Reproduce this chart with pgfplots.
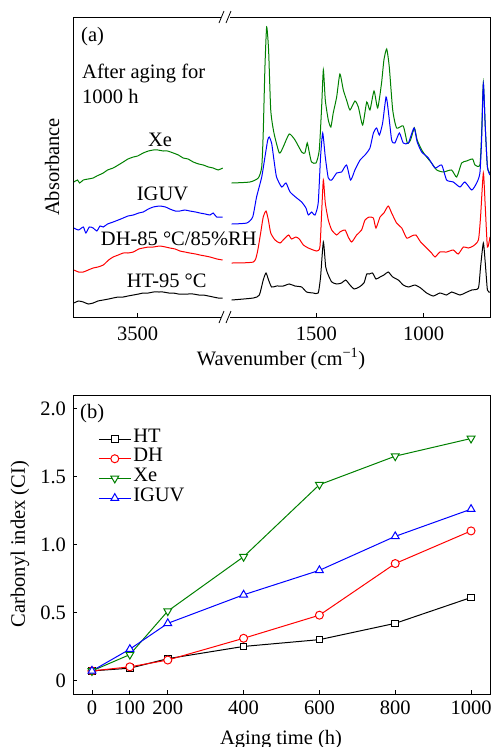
\documentclass[border=0pt]{standalone}
\usepackage{fontspec}
\setmainfont{Liberation Serif}
\usepackage{pgfplots}
\pgfplotsset{compat=1.18}
\definecolor{cgreen}{RGB}{0,128,0}
\definecolor{cblue}{RGB}{0,0,255}
\definecolor{cred}{RGB}{255,0,0}
\newcommand{\fs}{\fontsize{20.5}{24}\selectfont}
\begin{document}
\fs
\begin{tikzpicture}
\useasboundingbox (0pt,0pt) rectangle (493pt,-747pt);
\pgfplotsset{
  every axis/.append style={font=\fs, /pgf/number format/assume math mode=true,
    /pgf/number format/1000 sep={},
    scale only axis, anchor=south west, tick align=inside, major tick length=4pt,
    every tick/.style={black, line width=0.8pt}},
  spec/.style={line width=1pt, smooth, tension=0.35},
}
% ---------- panel (a), left part ----------
\begin{axis}[at={(73pt,-317pt)}, width=152pt, height=300pt,
  xmin=3093, xmax=3801, x dir=reverse, ymin=0, ymax=300,
  ytick=\empty, xtick={3500}, xtick pos=bottom, axis line style={draw=none},
  xticklabel style={yshift=-3pt}]
\addplot[cgreen, spec] coordinates {(3797,135) (3780,137) (3770,134) (3753,137) (3730,138) (3707,139) (3690,141) (3660,144) (3640,147) (3614,149) (3590,152) (3567,155) (3545,158) (3520,160) (3500,161) (3474,164) (3450,166) (3427,167) (3405,167) (3381,166) (3360,166) (3334,164) (3310,162) (3288,159) (3265,158) (3241,155) (3215,153) (3194,152) (3170,150) (3148,149) (3125,147) (3104,149)};
\addplot[cblue, spec] coordinates {(3797,89) (3775,87) (3753,90) (3741,84) (3725,90) (3707,89) (3690,86) (3675,91) (3660,90) (3640,93) (3614,95) (3590,97) (3567,99) (3545,101) (3520,102) (3495,104) (3474,105) (3450,108) (3427,110) (3396,111) (3370,110) (3350,108) (3325,106) (3303,106) (3280,107) (3257,106) (3230,105) (3210,104) (3185,103) (3163,102) (3148,104) (3132,100) (3104,100)};
\addplot[cred, spec] coordinates {(3797,47) (3775,45) (3753,45) (3730,47) (3707,49) (3685,50) (3660,52) (3635,57) (3614,60) (3590,62) (3567,64) (3545,64) (3520,65) (3495,68) (3474,69) (3450,70) (3427,70) (3396,71) (3370,70) (3350,69) (3325,68) (3303,66) (3280,65) (3257,64) (3230,63) (3210,62) (3185,61) (3163,60) (3130,58) (3104,57)};
\addplot[black, spec] coordinates {(3797,14) (3775,16) (3753,15) (3730,13) (3707,14) (3685,16) (3660,17) (3635,18) (3614,19) (3590,20) (3567,20) (3545,21) (3520,22) (3495,23) (3474,24) (3450,24) (3427,25) (3400,25) (3381,25) (3355,24) (3334,24) (3310,23) (3288,23) (3265,23) (3241,23) (3215,22) (3194,22) (3170,21) (3148,20) (3125,19) (3104,19)};
\end{axis}
% ---------- panel (a), right part ----------
\begin{axis}[at={(225pt,-317pt)}, width=265pt, height=300pt,
  xmin=691, xmax=1925, x dir=reverse, ymin=0, ymax=300,
  ytick=\empty, xtick={1500,1000}, xtick pos=bottom, axis line style={draw=none},
  xticklabel style={yshift=-3pt}]
\addplot[cgreen, spec] coordinates {(1894,134) (1809,135) (1770,139) (1754,150) (1747,184) (1739,250) (1731,290) (1722,267) (1712,207) (1697,184) (1672,164) (1654,170) (1626,183) (1599,177) (1568,165) (1553,164) (1542,174) (1532,164) (1522,155) (1501,154) (1486,167) (1475,210) (1467,247) (1458,217) (1444,197) (1432,190) (1421,204) (1405,220) (1390,243) (1374,227) (1359,217) (1343,207) (1320,216) (1304,210) (1284,192) (1265,215) (1250,207) (1231,226) (1214,209) (1196,234) (1185,257) (1172,268) (1160,250) (1144,207) (1126,189) (1095,191) (1076,174) (1061,177) (1043,189) (1030,177) (1009,167) (986,160) (963,154) (939,147) (908,145) (870,147) (846,140) (823,154) (800,156) (772,158) (761,152) (738,152) (730,184) (722,234) (713,190) (703,150) (691,144)};
\addplot[cblue, spec] coordinates {(1894,93) (1824,94) (1796,100) (1778,120) (1754,140) (1739,160) (1726,177) (1719,180) (1708,174) (1697,157) (1685,140) (1661,130) (1641,134) (1622,125) (1591,119) (1568,115) (1548,109) (1537,102) (1522,105) (1506,102) (1491,114) (1480,160) (1470,184) (1458,160) (1444,139) (1428,137) (1405,144) (1382,145) (1359,152) (1340,137) (1320,147) (1296,157) (1273,162) (1250,169) (1234,184) (1219,189) (1206,182) (1191,194) (1175,220) (1165,207) (1149,177) (1134,174) (1113,184) (1095,174) (1071,174) (1045,189) (1030,175) (1009,165) (978,159) (947,149) (916,152) (893,137) (862,135) (831,130) (808,135) (776,127) (753,134) (738,144) (730,177) (722,233) (713,190) (703,150) (691,142)};
\addplot[cred, spec] coordinates {(1894,54) (1793,55) (1775,64) (1759,84) (1747,100) (1734,106) (1723,97) (1712,84) (1692,77) (1669,74) (1650,78) (1629,82) (1615,78) (1595,80) (1579,78) (1560,72) (1537,69) (1498,66) (1483,70) (1475,104) (1467,137) (1458,114) (1444,97) (1428,87) (1405,82) (1390,85) (1366,87) (1351,80) (1335,75) (1312,82) (1289,87) (1273,97) (1253,100) (1234,99) (1222,89) (1203,100) (1185,104) (1165,111) (1149,104) (1126,94) (1102,89) (1079,79) (1056,81) (1036,82) (1014,75) (986,69) (963,64) (947,60) (924,65) (893,65) (862,67) (839,63) (815,70) (792,69) (769,71) (745,77) (735,100) (722,144) (713,110) (703,70) (691,80)};
\addplot[black, spec] coordinates {(1894,17) (1793,19) (1765,22) (1747,37) (1734,44) (1722,37) (1708,30) (1685,31) (1654,31) (1626,33) (1599,31) (1568,30) (1545,25) (1514,24) (1491,24) (1480,40) (1467,75) (1456,50) (1444,42) (1428,35) (1405,33) (1382,34) (1363,37) (1343,32) (1324,28) (1300,30) (1278,34) (1265,43) (1253,43) (1238,44) (1222,38) (1203,40) (1185,42) (1165,45) (1144,40) (1118,37) (1095,32) (1071,30) (1040,32) (1014,29) (986,24) (955,21) (924,24) (893,22) (870,25) (831,22) (808,24) (776,27) (745,29) (735,50) (722,74) (713,54) (703,27) (691,25)};
\end{axis}
% frame of panel (a) with axis break
\draw[line width=0.9pt] (221pt,-17pt) -- (73pt,-17pt) -- (73pt,-317pt) -- (221pt,-317pt);
\draw[line width=0.9pt] (230pt,-17pt) -- (490pt,-17pt) -- (490pt,-317pt) -- (230pt,-317pt);
\foreach \yy in {-17,-317} {
  \draw[line width=0.8pt] (219pt,\yy pt-6pt) -- (224pt,\yy pt+6pt);
  \draw[line width=0.8pt] (226pt,\yy pt-6pt) -- (231pt,\yy pt+6pt);
}
\node[anchor=base west, inner sep=0pt] at (81pt,-41pt) {(a)};
\node[anchor=base west, inner sep=0pt] at (82pt,-78pt) {After aging for};
\node[anchor=base west, inner sep=0pt] at (82pt,-103pt) {1000 h};
\node[anchor=base, inner sep=0pt] at (160pt,-146.5pt) {Xe};
\node[anchor=base, inner sep=0pt] at (162.5pt,-200pt) {IGUV};
\node[anchor=base, inner sep=0pt] at (178.8pt,-245pt) {DH-85 °C/85\%RH};
\node[anchor=base, inner sep=0pt] at (166.7pt,-287pt) {HT-95 °C};
\node[rotate=90, inner sep=0pt] at (52pt,-167pt) {Absorbance};
\node[anchor=base, inner sep=0pt] at (281pt,-365pt) {Wavenumber (cm\textsuperscript{−1})};
% ---------- panel (b) ----------
\begin{axis}[at={(73pt,-694pt)}, width=417pt, height=299pt,
  xmin=-50, xmax=1050, ymin=-0.1, ymax=2.1,
  xtick={0,100,200,400,600,800,1000}, ytick={0,0.5,1,1.5,2},
  yticklabels={0,0.5,1.0,1.5,2.0},
  xtick pos=bottom, ytick pos=left, axis line style={line width=0.9pt},
  legend cell align=left,
  legend image code/.code={\draw[mark repeat=2,mark phase=2] plot coordinates {(0pt,0pt) (16pt,0pt) (32pt,0pt)};},
  legend style={draw=none, fill=none, at={(0.053,0.893)}, anchor=north west,
    nodes={inner ysep=0pt, text height=13pt, text depth=6.7pt}}]
\addplot[black, line width=1pt, mark=square*, mark size=3.3pt, mark options={fill=white, solid}] coordinates {(0,0.07) (100,0.09) (200,0.16) (400,0.25) (600,0.30) (800,0.42) (1000,0.61)};
\addlegendentry{HT}
\addplot[cred, line width=1pt, mark=*, mark size=4pt, mark options={fill=white, solid}] coordinates {(0,0.07) (100,0.10) (200,0.15) (400,0.31) (600,0.48) (800,0.86) (1000,1.10)};
\addlegendentry{DH}
\addplot[cgreen, line width=1pt, mark=triangle*, mark size=4.5pt, mark options={fill=white, solid, rotate=180}] coordinates {(0,0.07) (100,0.19) (200,0.51) (400,0.91) (600,1.44) (800,1.65) (1000,1.78)};
\addlegendentry{Xe}
\addplot[cblue, line width=1pt, mark=triangle*, mark size=4.5pt, mark options={fill=white, solid}] coordinates {(0,0.07) (100,0.23) (200,0.42) (400,0.63) (600,0.81) (800,1.06) (1000,1.26)};
\addlegendentry{IGUV}
\end{axis}
\node[anchor=base west, inner sep=0pt] at (80pt,-418pt) {(b)};
\node[rotate=90, inner sep=0pt] at (20pt,-544pt) {Carbonyl index (CI)};
\node[anchor=base, inner sep=0pt] at (281pt,-744pt) {Aging time (h)};
\end{tikzpicture}
\end{document}
